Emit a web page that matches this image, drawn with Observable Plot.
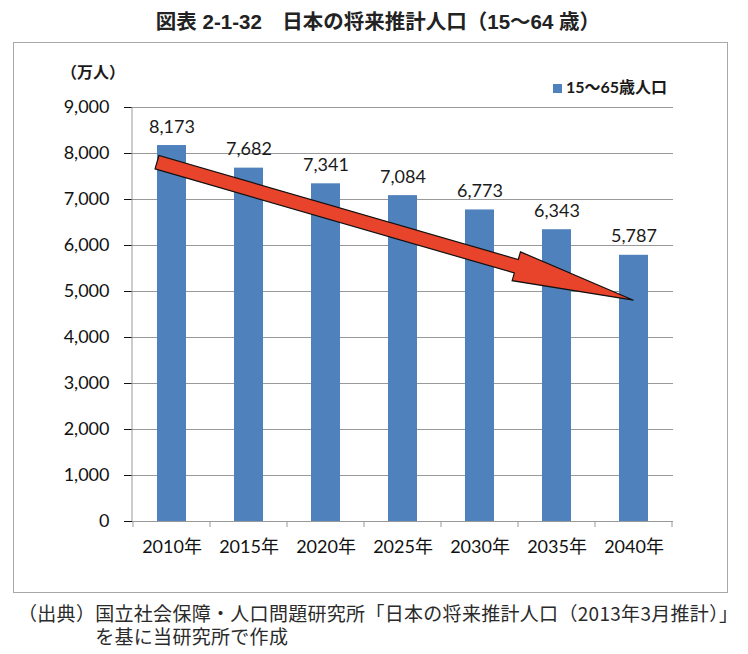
<!DOCTYPE html>
<html>
<head>
<meta charset="utf-8">
<script src="https://cdn.jsdelivr.net/npm/d3@7"></script>
<script src="https://cdn.jsdelivr.net/npm/@observablehq/plot@0.6"></script>
<style>
  body { margin: 0; background: #fff; }
  #wrap { position: relative; width: 748px; height: 654px; font-family: "Noto Sans CJK JP", sans-serif; color: #1a1a1a; }
  #title { position: absolute; top: 8px; left: 0; width: 756px; text-align: center; font-size: 20.5px; font-weight: 700; line-height: 28px; font-family: "Liberation Sans", "Noto Sans CJK JP", sans-serif; color: #222; }
  #box { position: absolute; left: 13px; top: 42px; width: 713px; height: 549px; border: 1px solid #a8a8a8; }
  #chart { position: absolute; left: 0; top: 0; }
  #unit { position: absolute; left: 47px; top: 17px; font-size: 16px; font-weight: 700; line-height: 22px; }
  #legend { position: absolute; left: 539px; top: 33px; font-size: 16px; font-weight: 700; line-height: 22px; font-family: Lato, "Noto Sans CJK JP", sans-serif; display: flex; align-items: center; }
  #legend .sw { width: 9px; height: 9px; background: #4f81bd; margin-right: 4px; margin-top: 3px; }
  #caption { position: absolute; left: 18px; top: 601px; font-size: 19px; line-height: 23px; color: #2a2a2a; white-space: pre; letter-spacing: 0.3px; }
</style>
</head>
<body>
<div id="wrap">
  <div id="title">図表 2-1-32　日本の将来推計人口（15〜64 歳）</div>
  <div id="box">
    <div id="chart"></div>
    <div id="unit">（万人）</div>
    <div id="legend"><span class="sw"></span><span id="legendText"></span></div>
  </div>
  <div id="caption">（出典）国立社会保障・人口問題研究所「日本の将来推計人口（2013年3月推計）」
　　　　を基に当研究所で作成</div>
</div>
<script>
const years = ["2010年", "2015年", "2020年", "2025年", "2030年", "2035年", "2040年"];
const population = [8173, 7682, 7341, 7084, 6773, 6343, 5787];
const seriesName = "15〜65歳人口";
const yTicks = [0, 1000, 2000, 3000, 4000, 5000, 6000, 7000, 8000, 9000];
const trendFrom = {year: "2010年", value: 7800};
const trendTo = {year: "2040年", value: 4800};

document.getElementById("legendText").textContent = seriesName;

const table = years.map((y, i) => ({year: y, value: population[i]}));
const fmt = d3.format(",");

function decorations(index, scales, values, dimensions) {
  const {x, y} = scales;
  const bw = x.bandwidth();
  const step = x.step ? x.step() : bw / (1 - 0.625);
  const g = d3.create("svg:g");
  const x0 = dimensions.marginLeft;
  g.append("line")
    .attr("x1", x0).attr("x2", x0)
    .attr("y1", y(yTicks[yTicks.length - 1])).attr("y2", y(0))
    .attr("stroke", "#999").attr("stroke-width", 1);
  const bounds = years.map(c => x(c) - (step - bw) / 2);
  bounds.push(x(years[years.length - 1]) + bw + (step - bw) / 2);
  for (const bx of bounds) {
    g.append("line")
      .attr("x1", bx).attr("x2", bx)
      .attr("y1", y(0)).attr("y2", y(0) + 6)
      .attr("stroke", "#999").attr("stroke-width", 1);
  }
  const sx = x(trendFrom.year), sy = y(trendFrom.value);
  const tx = x(trendTo.year) + bw / 2, ty = y(trendTo.value);
  const dx = tx - sx, dy = ty - sy, len = Math.hypot(dx, dy);
  const ux = dx / len, uy = dy / len, nx = -uy, ny = ux;
  const w = 7, h = 15, L = 122;
  const bx = tx - ux * L, by = ty - uy * L;
  const pts = [
    [sx + nx * w, sy + ny * w],
    [bx + nx * w, by + ny * w],
    [bx + nx * h, by + ny * h],
    [tx, ty],
    [bx - nx * h, by - ny * h],
    [bx - nx * w, by - ny * w],
    [sx - nx * w, sy - ny * w]
  ];
  g.append("path")
    .attr("d", "M" + pts.map(p => p.join(",")).join("L") + "Z")
    .attr("fill", "#e8432b")
    .attr("stroke", "#111")
    .attr("stroke-width", 1.2)
    .attr("stroke-linejoin", "miter");
  return g.node();
}

const chart = Plot.plot({
  width: 713,
  height: 549,
  marginLeft: 118,
  marginRight: 54,
  marginTop: 64,
  marginBottom: 71,
  style: {
    fontFamily: "Lato, 'Noto Sans CJK JP', sans-serif",
    fontSize: "18px",
    color: "#111",
    background: "transparent"
  },
  x: {domain: years, paddingInner: 0.625, paddingOuter: 0.3125, label: null, tickSize: 0, tickPadding: 19},
  y: {domain: [0, 9000], ticks: 9, tickSize: 8, tickPadding: 15, tickFormat: fmt, label: null},
  marks: [
    Plot.ruleY(yTicks, {stroke: "#999", strokeWidth: 1}),
    Plot.barY(table, {x: "year", y: "value", fill: "#4f81bd"}),
    Plot.text(table, {x: "year", y: "value", text: d => fmt(d.value), lineAnchor: "bottom", dy: -13, fontSize: 18, fill: "#1a1a1a"}),
    decorations
  ]
});
document.getElementById("chart").appendChild(chart);
</script>
</body>
</html>
